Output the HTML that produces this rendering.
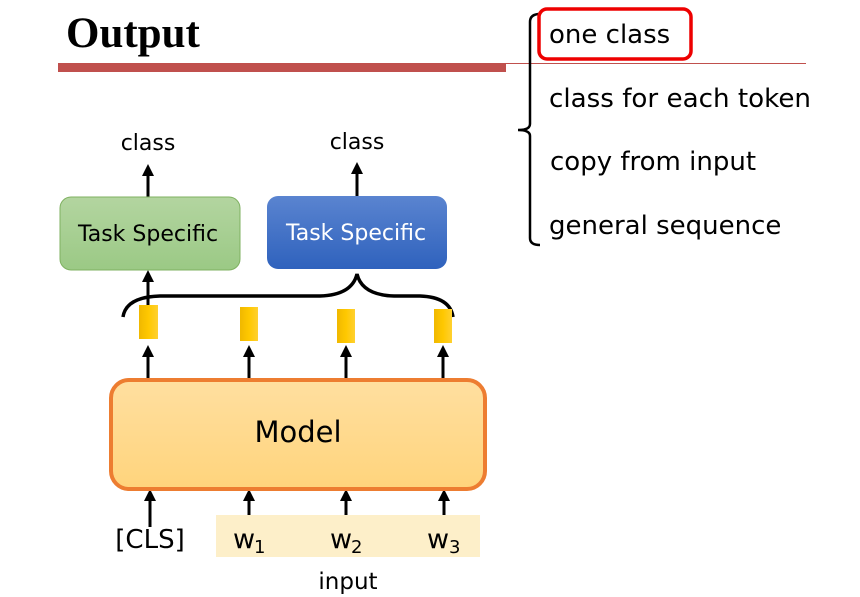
<!DOCTYPE html>
<html><head><meta charset="utf-8"><style>
html,body{margin:0;padding:0;background:#fff;}
svg{display:block;}
text{font-family:"DejaVu Sans","Liberation Sans",sans-serif;}
</style></head><body>
<svg width="860" height="597" viewBox="0 0 860 597" xmlns="http://www.w3.org/2000/svg">
<defs>
<linearGradient id="gg" x1="0" y1="0" x2="0" y2="1"><stop offset="0" stop-color="#b3d5a0"/><stop offset="1" stop-color="#9bc985"/></linearGradient>
<linearGradient id="bg" x1="0" y1="0" x2="0" y2="1"><stop offset="0" stop-color="#5a84d0"/><stop offset="1" stop-color="#2f62bd"/></linearGradient>
<linearGradient id="og" x1="0" y1="0" x2="0" y2="1"><stop offset="0" stop-color="#ffdfa0"/><stop offset="1" stop-color="#ffd47c"/></linearGradient>
<linearGradient id="yg" x1="0" y1="0" x2="1" y2="0"><stop offset="0" stop-color="#f0b800"/><stop offset="0.5" stop-color="#ffc800"/><stop offset="1" stop-color="#ffd030"/></linearGradient>
</defs>
<text x="66" y="47" font-weight="bold" font-size="43" style="font-family:'Liberation Serif',serif">Output</text>
<rect x="58" y="63" width="448" height="9" fill="#c0504d"/>
<line x1="506" y1="63.5" x2="806" y2="63.5" stroke="#c0504d" stroke-width="1"/>
<path d="M540,14 Q530,14 530,22 L530,124 Q530,130 518,130 Q530,130 530,136 L530,238 Q530,245 540,245" fill="none" stroke="#000" stroke-width="2.5"/>
<rect x="539" y="9" width="152" height="50" rx="8" fill="none" stroke="#e00" stroke-width="3.5"/>
<g font-size="26" fill="#000">
<text x="549" y="43">one class</text>
<text x="549" y="107" textLength="262" lengthAdjust="spacingAndGlyphs">class for each token</text>
<text x="550" y="170">copy from input</text>
<text x="549" y="234">general sequence</text>
</g>
<text x="148" y="150" font-size="22" text-anchor="middle">class</text>
<text x="357" y="149" font-size="22" text-anchor="middle">class</text>
<g stroke="#000" stroke-width="3" fill="none">
<line x1="148" y1="198" x2="148" y2="170"/>
<line x1="357" y1="197" x2="357" y2="168"/>
<line x1="148" y1="305" x2="148" y2="274"/>
<line x1="148" y1="378" x2="148" y2="350"/>
<line x1="249" y1="378" x2="249" y2="350"/>
<line x1="346" y1="378" x2="346" y2="350"/>
<line x1="443" y1="378" x2="443" y2="350"/>
<line x1="150" y1="527" x2="150" y2="494"/>
<line x1="249" y1="527" x2="249" y2="494"/>
<line x1="346" y1="527" x2="346" y2="494"/>
<line x1="444" y1="527" x2="444" y2="494"/>
</g>
<g fill="#000">
<path d="M142,176 L148,164 L154,176Z"/>
<path d="M351,174 L357,162 L363,174Z"/>
<path d="M142,282 L148,270 L154,282Z"/>
<path d="M142,357 L148,345 L154,357Z"/>
<path d="M243,357 L249,345 L255,357Z"/>
<path d="M340,357 L346,345 L352,357Z"/>
<path d="M437,357 L443,345 L449,357Z"/>
<path d="M144,501 L150,489 L156,501Z"/>
<path d="M243,501 L249,489 L255,501Z"/>
<path d="M340,501 L346,489 L352,501Z"/>
<path d="M438,501 L444,489 L450,501Z"/>
</g>
<rect x="60" y="197" width="180" height="73" rx="11" fill="url(#gg)" stroke="#7fb161" stroke-width="1"/>
<text x="148" y="241" font-size="22" text-anchor="middle" fill="#000">Task Specific</text>
<rect x="267" y="196" width="180" height="73" rx="11" fill="url(#bg)"/>
<text x="356" y="240" font-size="22" text-anchor="middle" fill="#fff">Task Specific</text>
<path d="M123,317 Q126,297 160,296 L320,296 Q352,295 357,274 Q362,295 394,296 L420,296 Q450,297 453,317" fill="none" stroke="#000" stroke-width="3.5"/>
<g fill="url(#yg)">
<rect x="139" y="305" width="19" height="34"/>
<rect x="240" y="307" width="18" height="34"/>
<rect x="337" y="309" width="18" height="34"/>
<rect x="434" y="309" width="18" height="34"/>
</g>
<rect x="111" y="380" width="374" height="109" rx="18" fill="url(#og)" stroke="#ed7d31" stroke-width="4"/>
<text x="298" y="442" font-size="29" text-anchor="middle">Model</text>
<rect x="216" y="515" width="264" height="42" fill="#fdefc9"/>
<text x="150" y="548" font-size="26" text-anchor="middle">[CLS]</text>
<g font-size="27"><text x="233" y="548">w</text><text x="330" y="548">w</text><text x="427" y="548">w</text></g>
<g font-size="18"><text x="254" y="553">1</text><text x="351" y="553">2</text><text x="449" y="553">3</text></g>
<text x="348" y="589" font-size="23" text-anchor="middle">input</text>
</svg>
</body></html>
